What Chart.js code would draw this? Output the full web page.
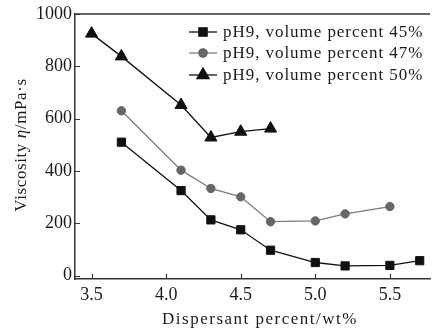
<!DOCTYPE html>
<html>
<head>
<meta charset="utf-8">
<script src="https://cdn.jsdelivr.net/npm/chart.js@4.4.1/dist/chart.umd.min.js"></script>
<style>
html,body{margin:0;padding:0;background:#fff;}
#wrap{width:438px;height:331px;}
</style>
</head>
<body>
<div id="wrap"><canvas id="c" width="438" height="331"></canvas></div>
<script>
// ---- data ----
const xTicks = [3.5, 4.0, 4.5, 5.0, 5.5];
const yTicks = [0, 200, 400, 600, 800, 1000];
const seriesLabels = ["pH9, volume percent 45%", "pH9, volume percent 47%", "pH9, volume percent 50%"];
const x45 = [3.7, 4.1, 4.3, 4.5, 4.7, 5.0, 5.2, 5.5, 5.7];
const y45 = [510, 325, 213, 175, 97, 50, 37, 39, 57];
const x47 = [3.7, 4.1, 4.3, 4.5, 4.7, 5.0, 5.2, 5.5];
const y47 = [630, 403, 333, 301, 206, 209, 236, 264];
const x50 = [3.5, 3.7, 4.1, 4.3, 4.5, 4.7];
const y50 = [925, 838, 652, 528, 550, 562];
const xTitle = "Dispersant percent/wt%";
const yTitleParts = [["Viscosity ", false], ["η", true], ["/mPa·s", false]];

const FONT = "'Liberation Serif', 'Times New Roman', serif";
function pts(xs, ys){ return xs.map((x,i)=>({x:x, y:ys[i]})); }

const styles = [
  {pointStyle:'rect', radius:5.8, color:'#111', line:'#111'},
  {pointStyle:'circle', radius:4.2, color:'#666', line:'#7a7a7a'},
  {pointStyle:'triangle', radius:7, color:'#111', line:'#111'}
];
const dataSets = [pts(x45,y45), pts(x47,y47), pts(x50,y50)];

const decor = {
  id:'decor',
  afterDraw(chart){
    const ctx = chart.ctx, a = chart.chartArea;
    const xs = chart.scales.x, ys = chart.scales.y;
    ctx.save();
    // top border
    ctx.strokeStyle = '#333'; ctx.lineWidth = 1.5;
    ctx.beginPath(); ctx.moveTo(a.left, a.top); ctx.lineTo(a.right, a.top); ctx.stroke();
    // inward ticks
    ctx.lineWidth = 1.2;
    ctx.beginPath();
    xTicks.forEach(v=>{ const px = Math.round(xs.getPixelForValue(v))+0.5; ctx.moveTo(px, a.bottom); ctx.lineTo(px, a.bottom-5); });
    yTicks.forEach(v=>{ const py = Math.round(ys.getPixelForValue(v))+0.5; ctx.moveTo(a.left, py); ctx.lineTo(a.left+5, py); });
    ctx.stroke();
    // legend
    const rows = [32, 53, 75];
    ctx.font = "17px " + FONT;
    ctx.textBaseline = 'middle';
    ctx.textAlign = 'left';
    styles.forEach((s,i)=>{
      const y = rows[i];
      try { ctx.letterSpacing = '0px'; } catch(e){}
      ctx.strokeStyle = s.line; ctx.lineWidth = 1.3;
      ctx.beginPath(); ctx.moveTo(189, y); ctx.lineTo(217, y); ctx.stroke();
      ctx.fillStyle = s.color; ctx.strokeStyle = s.color;
      Chart.helpers.drawPoint(ctx, {pointStyle:s.pointStyle, radius:s.radius, borderWidth:1, rotation:0}, 203, y);
      ctx.fill();
      ctx.fillStyle = '#1a1a1a';
      try { ctx.letterSpacing = '0.95px'; } catch(e){}
      ctx.fillText(seriesLabels[i], 223, y+1);
    });
    // x title
    ctx.fillStyle = '#1a1a1a';
    ctx.font = "17px " + FONT;
    ctx.textAlign = 'center';
    try { ctx.letterSpacing = '1.5px'; } catch(e){}
    ctx.fillText(xTitle, 260, 320);
    // y title
    ctx.save();
    ctx.translate(22, 145);
    ctx.rotate(-Math.PI/2);
    ctx.textAlign = 'left';
    try { ctx.letterSpacing = '0.6px'; } catch(e){}
    let total = 0;
    const fonts = yTitleParts.map(p => (p[1] ? "italic " : "") + "17px " + FONT);
    yTitleParts.forEach((p,i)=>{ ctx.font = fonts[i]; total += ctx.measureText(p[0]).width; });
    let cx = -total/2;
    yTitleParts.forEach((p,i)=>{ ctx.font = fonts[i]; ctx.fillText(p[0], cx, 0); cx += ctx.measureText(p[0]).width; });
    ctx.restore();
    try { ctx.letterSpacing = '0px'; } catch(e){}
    ctx.restore();
  }
};

new Chart(document.getElementById('c'), {
  type:'line',
  data:{
    datasets: dataSets.map((d,i)=>({
      label: seriesLabels[i],
      data: d,
      borderColor: styles[i].line,
      backgroundColor: styles[i].color,
      pointBackgroundColor: styles[i].color,
      pointBorderColor: styles[i].color,
      pointStyle: styles[i].pointStyle,
      pointRadius: styles[i].radius,
      pointBorderWidth: 1,
      borderWidth: 1.3,
      tension: 0,
      fill: false
    }))
  },
  options:{
    responsive:false,
    animation:false,
    devicePixelRatio:1,
    layout:{padding:{top:14, left:0, right:0, bottom:0}},
    plugins:{legend:{display:false}, tooltip:{enabled:false}},
    scales:{
      x:{
        type:'linear', min:3.389, max:5.769,
        afterBuildTicks(s){ s.ticks = xTicks.map(v=>({value:v})); },
        afterFit(s){ s.height = 52; },
        grid:{drawOnChartArea:false, drawTicks:false},
        border:{display:true, color:'#333', width:1.5},
        ticks:{padding:5, color:'#1a1a1a', font:{family:FONT, size:18}, callback:(v)=>Number(v).toFixed(1), maxRotation:0, autoSkip:false}
      },
      y:{
        type:'linear', min:-13, max:1000,
        afterBuildTicks(s){ s.ticks = yTicks.map(v=>({value:v})); },
        afterFit(s){ s.width = 75; },
        grid:{drawOnChartArea:false, drawTicks:false},
        border:{display:true, color:'#333', width:1.5},
        ticks:{padding:3, color:'#1a1a1a', font:{family:FONT, size:18}, callback:(v)=>String(v), autoSkip:false}
      }
    }
  },
  plugins:[decor]
});
</script>
</body>
</html>
